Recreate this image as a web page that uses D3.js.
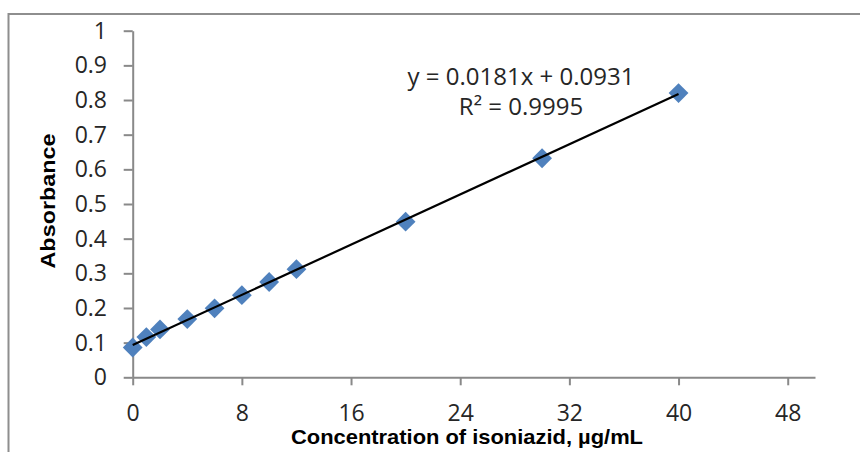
<!DOCTYPE html>
<html>
<head>
<meta charset="utf-8">
<script src="https://cdn.jsdelivr.net/npm/d3@7"></script>
<style>
  html, body { margin: 0; padding: 0; background: #ffffff; }
  .axis path, .axis line { stroke: #898989; stroke-width: 2; }
  .axis text { font-family: "Open Sans", sans-serif; font-size: 23px; fill: #262626; }
</style>
</head>
<body>
<div id="chart"></div>
<script>
// Calibration data
var concentration = [0, 1, 2, 4, 6, 8, 10, 12, 20, 30, 40];
var absorbance = [0.086, 0.116, 0.138, 0.168, 0.199, 0.237, 0.275, 0.312, 0.449, 0.632, 0.820];

// Linear trendline shown on the chart
var slope = 0.0181;
var intercept = 0.0931;
var trendRange = [0, 40];

var xTicks = [0, 8, 16, 24, 32, 40, 48];
var yTicks = [0, 0.1, 0.2, 0.3, 0.4, 0.5, 0.6, 0.7, 0.8, 0.9, 1];

var svgWidth = 860;
var svgHeight = 452;

var plot = {
  left: 132.7,
  right: 815,
  top: 30.7,
  bottom: 377.3
};

var svg = d3.select("#chart")
  .append("svg")
  .attr("width", svgWidth)
  .attr("height", svgHeight);

svg.append("rect")
  .attr("width", svgWidth)
  .attr("height", svgHeight)
  .attr("fill", "#ffffff");

// outer chart frame (only top and left edges are visible in the crop)
svg.append("path")
  .attr("d", `M8.5,${svgHeight} V14 H${svgWidth}`)
  .attr("fill", "none")
  .attr("stroke", "#8e8e8e")
  .attr("stroke-width", 2);

var xScale = d3.scaleLinear()
  .domain([0, 50])
  .range([plot.left, plot.right]);

var yScale = d3.scaleLinear()
  .domain([0, 1])
  .range([plot.bottom, plot.top]);

var bottomAxis = d3.axisBottom(xScale)
  .tickValues(xTicks)
  .tickSize(8)
  .tickPadding(19.5)
  .tickSizeOuter(0)
  .tickFormat(d3.format("d"));

var leftAxis = d3.axisLeft(yScale)
  .tickValues(yTicks)
  .tickSize(9)
  .tickPadding(16.7)
  .tickSizeOuter(0)
  .tickFormat(d => d === 0 || d === 1 ? d3.format("d")(d) : d3.format(".1f")(d));

svg.append("g")
  .attr("class", "axis x-axis")
  .attr("transform", `translate(0, ${plot.bottom})`)
  .call(bottomAxis);

svg.append("g")
  .attr("class", "axis y-axis")
  .attr("transform", `translate(${plot.left}, 0)`)
  .call(leftAxis);

// markers: diamonds
var points = concentration.map((c, i) => ({ x: c, y: absorbance[i] }));

svg.append("g")
  .selectAll("rect")
  .data(points)
  .enter()
  .append("rect")
  .attr("x", -7)
  .attr("y", -7)
  .attr("width", 14)
  .attr("height", 14)
  .attr("fill", "#4f81bd")
  .attr("transform", d => `translate(${xScale(d.x)}, ${yScale(d.y)}) rotate(45)`);

// trendline drawn above the markers
var trendLine = d3.line()
  .x(d => xScale(d))
  .y(d => yScale(slope * d + intercept));

svg.append("path")
  .datum(trendRange)
  .attr("d", trendLine)
  .attr("fill", "none")
  .attr("stroke", "#000000")
  .attr("stroke-width", 2.2);

// equation label
var eqGroup = svg.append("g")
  .attr("font-family", "'Open Sans', sans-serif")
  .attr("font-size", 24)
  .attr("fill", "#262626")
  .attr("text-anchor", "middle");

eqGroup.append("text")
  .attr("x", 521)
  .attr("y", 85)
  .text(`y = ${slope}x + ${intercept}`);

eqGroup.append("text")
  .attr("x", 521)
  .attr("y", 115)
  .text("R² = 0.9995");

// axis titles
svg.append("text")
  .attr("transform", "translate(55, 201) rotate(-90)")
  .attr("text-anchor", "middle")
  .attr("font-family", "'Liberation Sans', Arial, sans-serif")
  .attr("font-weight", "bold")
  .attr("font-size", 21)
  .attr("fill", "#000000")
  .attr("textLength", 135)
  .attr("lengthAdjust", "spacingAndGlyphs")
  .text("Absorbance");

svg.append("text")
  .attr("x", 467)
  .attr("y", 444)
  .attr("text-anchor", "middle")
  .attr("font-family", "'Liberation Sans', Arial, sans-serif")
  .attr("font-weight", "bold")
  .attr("font-size", 21)
  .attr("fill", "#000000")
  .attr("textLength", 352)
  .attr("lengthAdjust", "spacingAndGlyphs")
  .text("Concentration of isoniazid, µg/mL");
</script>
</body>
</html>
